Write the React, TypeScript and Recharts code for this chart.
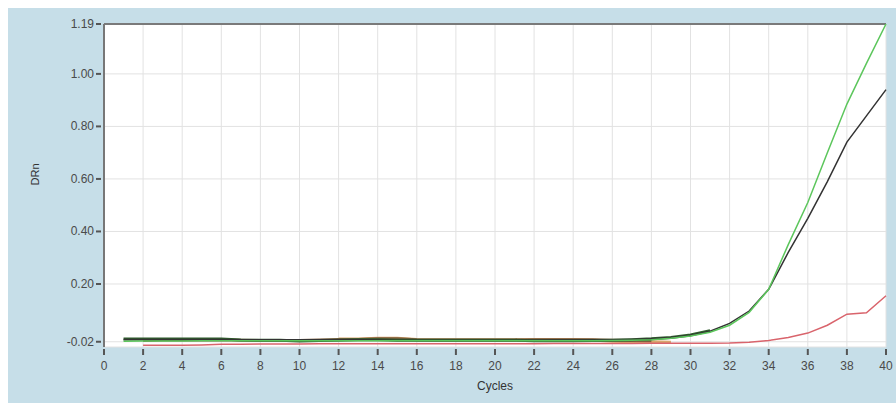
import { LineChart, Line, XAxis, YAxis, CartesianGrid, ReferenceLine } from "recharts"

const cycles = Array.from({ length: 40 }, (_, i) => i + 1)

const greenRn = [
  -0.018, -0.017, -0.017, -0.017, -0.016, -0.016, -0.016, -0.016, -0.016, -0.016,
  -0.016, -0.016, -0.016, -0.016, -0.016, -0.016, -0.016, -0.016, -0.016, -0.016,
  -0.016, -0.016, -0.016, -0.016, -0.016, -0.015, -0.014, -0.012, -0.007, 0.002,
  0.016, 0.043, 0.092, 0.18, 0.35, 0.51, 0.7, 0.885, 1.04, 1.19,
]

const blackRn = [
  -0.011, -0.011, -0.011, -0.011, -0.011, -0.011, -0.012, -0.012, -0.012, -0.012,
  -0.012, -0.012, -0.012, -0.013, -0.015, -0.015, -0.015, -0.015, -0.015, -0.015,
  -0.015, -0.014, -0.013, -0.013, -0.013, -0.012, -0.011, -0.009, -0.004, 0.005,
  0.02, 0.05, 0.097, 0.18, 0.32, 0.45, 0.59, 0.74, 0.84, 0.94,
]

const redRn = [
  null, -0.033, -0.033, -0.033, -0.032, -0.03, -0.03, -0.029, -0.029, -0.029,
  -0.028, -0.028, -0.028, -0.028, -0.028, -0.028, -0.028, -0.028, -0.028, -0.028,
  -0.028, -0.028, -0.027, -0.027, -0.027, -0.027, -0.027, -0.026, -0.026, -0.026,
  -0.026, -0.025, -0.022, -0.015, -0.004, 0.013, 0.043, 0.085, 0.09, 0.155,
]

const darkGreenRn = [
  -0.01, -0.01, -0.01, -0.01, -0.01, -0.01, -0.013, -0.014, -0.014, -0.017,
  -0.015, -0.014, -0.012, -0.012, -0.014, -0.014, -0.014, -0.014, -0.014, -0.014,
  -0.014, -0.016, -0.016, -0.016, -0.015, -0.014, -0.012, -0.009, -0.004, 0.006,
  0.022, null, null, null, null, null, null, null, null, null,
]

const brownRn = [
  null, -0.015, -0.013, -0.013, -0.013, -0.012, -0.014, -0.015, -0.015, -0.015,
  -0.013, -0.011, -0.011, -0.009, -0.009, -0.012, -0.013, -0.013, -0.013, -0.013,
  -0.013, -0.012, -0.012, -0.012, -0.012, -0.014, -0.015, -0.016, null, null,
  null, null, null, null, null, null, null, null, null, null,
]

const orangeRn = [
  null, null, null, null, null, null, null, null, null, null,
  null, -0.01, -0.01, -0.007, -0.007, -0.011, -0.012, -0.012, -0.012, -0.012,
  -0.012, -0.011, -0.011, -0.011, -0.013, -0.018, -0.02, -0.02, -0.022, null,
  null, null, null, null, null, null, null, null, null, null,
]

const xTicks = [0, 2, 4, 6, 8, 10, 12, 14, 16, 18, 20, 22, 24, 26, 28, 30, 32, 34, 36, 38, 40]
const yTicks = [-0.02, 0.2, 0.4, 0.6, 0.8, 1.0, 1.19]

const data = cycles.map((c, i) => ({
  cycle: c,
  green: greenRn[i],
  black: blackRn[i],
  red: redRn[i],
  darkGreen: darkGreenRn[i],
  brown: brownRn[i],
  orange: orangeRn[i],
}))

const tickColor = "#4a4a4a"

const XTick = (props: any) => {
  const { x, y, payload } = props
  return (
    <g>
      <line x1={x} x2={x} y1={y + 2} y2={y + 8} stroke="#555" strokeWidth={2} />
      <text x={x} y={y + 23} textAnchor="middle" fontSize={12} fill={tickColor}>
        {payload.value}
      </text>
    </g>
  )
}

const YTick = (props: any) => {
  const { x, y, payload } = props
  return (
    <g>
      <line x1={x - 8} x2={x - 3} y1={y} y2={y} stroke="#555" strokeWidth={2} />
      <text x={x - 10} y={y + 4} textAnchor="end" fontSize={12} fill={tickColor}>
        {payload.value.toFixed(2)}
      </text>
    </g>
  )
}

export default function App() {
  return (
    <div
      style={{
        position: "fixed",
        left: 8,
        top: 8,
        width: 888,
        height: 395,
        background: "#c6dee8",
        fontFamily: "'Liberation Sans', Arial, sans-serif",
      }}
    >
      <LineChart
        width={888}
        height={395}
        data={data}
        margin={{ top: 16, right: 10, left: 0, bottom: 0 }}
      >
        <CartesianGrid fill="#ffffff" stroke="#e2e2e2" />
        <XAxis
          dataKey="cycle"
          type="number"
          domain={[0, 40]}
          ticks={xTicks}
          height={56}
          axisLine={false}
          tickLine={false}
          tickSize={0}
          tickMargin={0}
          tick={<XTick />}
          interval={0}
          label={{ value: "Cycles", position: "insideBottom", offset: 13, fontSize: 12, fill: "#333" }}
        />
        <YAxis
          type="number"
          domain={[-0.04, 1.19]}
          ticks={yTicks}
          width={96}
          allowDataOverflow
          axisLine={{ stroke: "#777", strokeWidth: 2 }}
          tickLine={false}
          tickSize={0}
          tickMargin={0}
          tick={<YTick />}
          interval={0}
          label={{ value: "DRn", angle: -90, position: "insideLeft", offset: 27, fontSize: 11, fill: "#333" }}
        />
        <ReferenceLine y={1.19} stroke="#7a7a7a" strokeWidth={2} />
        <Line dataKey="orange" stroke="#d8a56c" strokeWidth={3} dot={false} isAnimationActive={false} type="linear" />
        <Line dataKey="brown" stroke="#7d5e3e" strokeWidth={3} dot={false} isAnimationActive={false} type="linear" />
        <Line dataKey="darkGreen" stroke="#2f5c2c" strokeWidth={3} dot={false} isAnimationActive={false} type="linear" />
        <Line dataKey="red" stroke="#d9646c" strokeWidth={1.5} dot={false} isAnimationActive={false} type="linear" />
        <Line dataKey="black" stroke="#333333" strokeWidth={1.5} dot={false} isAnimationActive={false} type="linear" />
        <Line dataKey="green" stroke="#5cc65c" strokeWidth={1.5} dot={false} isAnimationActive={false} type="linear" />
      </LineChart>
    </div>
  )
}
